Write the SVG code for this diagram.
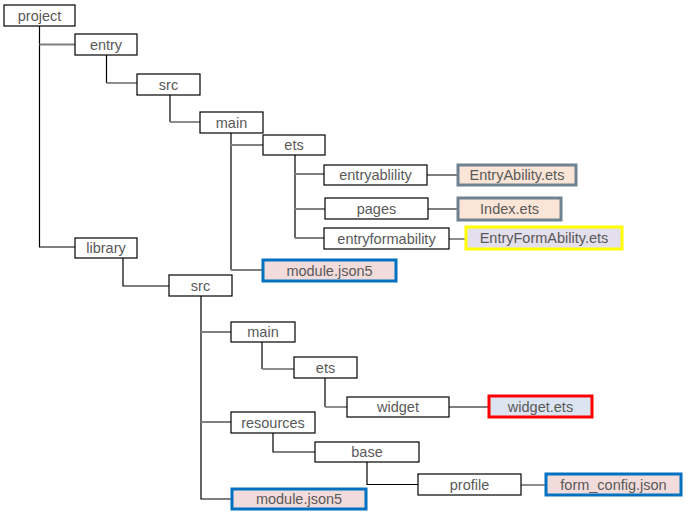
<svg xmlns="http://www.w3.org/2000/svg" width="695" height="525" viewBox="0 0 695 525">
<style>
.n rect{fill:#fff;stroke:#000;stroke-width:1.2}
text{font-family:"Liberation Sans",Arial,sans-serif;font-size:14.5px;fill:#595959;text-anchor:middle}
.f rect{stroke-width:3}
.k{stroke:#000;stroke-width:1.2;fill:none}
.g{stroke:#808080;stroke-width:1.8;fill:none}
</style>
<rect width="695" height="525" fill="#fff"/>
<g id="connectors">
<path class="k" d="M39.5 26V247H75"/>
<path class="g" d="M39.5 44.5H75"/>
<path class="k" d="M106.5 55V83"/><path class="g" d="M106.5 83H137"/>
<path class="k" d="M170 95V122"/><path class="g" d="M170 122H200"/>
<path class="k" d="M231 133V270"/><path class="g" d="M231 145H263M231 270H262"/>
<path class="k" d="M295 155V238"/><path class="g" d="M295 174H324M295 209H325M295 238H324"/>
<path class="k" d="M427 175H458M428 209H457"/><path class="g" d="M449 239H465"/>
<path class="k" d="M123 258V286H169"/>
<path class="k" d="M201 296V499H231"/><path class="g" d="M201 332H231M201 422H231"/>
<path class="k" d="M262 342V369"/><path class="g" d="M262 369H294"/>
<path class="k" d="M325 378V407"/><path class="g" d="M325 407H347"/>
<path class="k" d="M449 407H488"/>
<path class="k" d="M273 433V452H315"/>
<path class="k" d="M367 462V484.5H418"/>
<path class="g" d="M521 485H545"/>
</g>
<g id="project" class="n"><rect x="4" y="5" width="71" height="21"/><text x="39.5" y="20.5">project</text></g>
<g id="entry" class="n"><rect x="75" y="34" width="62" height="21"/><text x="106" y="49.5">entry</text></g>
<g id="entry-src" class="n"><rect x="137" y="74" width="63" height="21"/><text x="168.5" y="89.5">src</text></g>
<g id="entry-main" class="n"><rect x="200" y="112" width="63" height="21"/><text x="231.5" y="127.5">main</text></g>
<g id="entry-ets" class="n"><rect x="263" y="135" width="62" height="20"/><text x="294" y="150">ets</text></g>
<g id="entryablility" class="n"><rect x="324" y="165" width="103" height="20"/><text x="375.5" y="180">entryablility</text></g>
<g id="pages" class="n"><rect x="325" y="198" width="103" height="21"/><text x="376.5" y="213.5">pages</text></g>
<g id="entryformability" class="n"><rect x="324" y="228" width="125" height="21"/><text x="386.5" y="243.5">entryformability</text></g>
<g id="EntryAbility" class="f"><rect x="458" y="165" width="118" height="20" fill="#FBE5D6" stroke="#6F8290"/><text x="517" y="180">EntryAbility.ets</text></g>
<g id="Index" class="f"><rect x="458" y="198" width="103" height="22" fill="#FBE5D6" stroke="#6F8290"/><text x="509.5" y="214">Index.ets</text></g>
<g id="EntryFormAbility" class="f"><rect x="466" y="227" width="156" height="22" fill="#E3DFEC" stroke="#FFFF00"/><text x="544" y="243">EntryFormAbility.ets</text></g>
<g id="entry-module" class="f"><rect x="263" y="260" width="133" height="21" fill="#F2DCDB" stroke="#0070C0"/><text x="329.5" y="275.5">module.json5</text></g>
<g id="library" class="n"><rect x="75" y="238" width="62" height="20"/><text x="106" y="253">library</text></g>
<g id="library-src" class="n"><rect x="169" y="275" width="63" height="21"/><text x="200.5" y="290.5">src</text></g>
<g id="library-main" class="n"><rect x="231" y="322" width="64" height="20"/><text x="263" y="337">main</text></g>
<g id="library-ets" class="n"><rect x="294" y="357" width="63" height="21"/><text x="325.5" y="372.5">ets</text></g>
<g id="widget" class="n"><rect x="347" y="397" width="102" height="20"/><text x="398" y="412">widget</text></g>
<g id="widget-ets" class="f"><rect x="489" y="396" width="103" height="21" fill="#DBE4F0" stroke="#FF0000"/><text x="540.5" y="411.5">widget.ets</text></g>
<g id="resources" class="n"><rect x="231" y="412" width="84" height="21"/><text x="273" y="427.5">resources</text></g>
<g id="base" class="n"><rect x="315" y="442" width="104" height="20"/><text x="367" y="457">base</text></g>
<g id="profile" class="n"><rect x="418" y="474" width="103" height="21"/><text x="469.5" y="489.5">profile</text></g>
<g id="form-config" class="f"><rect x="546" y="474" width="135" height="21" fill="#F2DCDB" stroke="#0070C0"/><text x="613.5" y="489.5">form_config.json</text></g>
<g id="library-module" class="f"><rect x="232" y="489" width="134" height="20" fill="#F2DCDB" stroke="#0070C0"/><text x="299" y="504">module.json5</text></g>
</svg>
